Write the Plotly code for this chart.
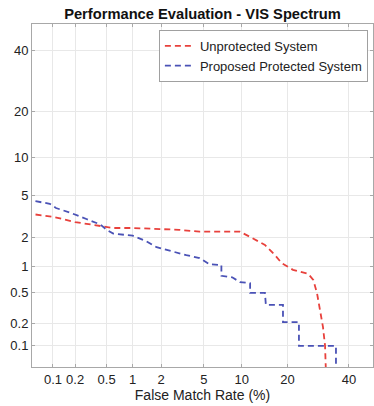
from statistics import NormalDist
import plotly.graph_objects as go

# ---- data (percentages) ----
unprot_fmr = [0.04, 0.05, 0.1, 0.2, 0.45, 0.6, 1.0, 3.0, 4.6, 9.7, 11.5, 14.5, 16.8, 18.5, 21.5, 26.0, 27.6, 28.8, 29.8, 30.8, 31.5, 31.8]
unprot_fnmr = [3.45, 3.4, 3.2, 2.85, 2.56, 2.5, 2.5, 2.4, 2.3, 2.3, 2.04, 1.69, 1.32, 1.08, 0.91, 0.82, 0.70, 0.49, 0.30, 0.18, 0.1, 0.04]

prot_fmr = [0.04, 0.05, 0.09, 0.11, 0.17, 0.28, 0.42, 0.5, 0.6, 1.0, 1.4, 1.8, 2.45, 3.5, 4.6, 4.9, 5.6, 7.0, 7.0, 8.5, 9.7, 11.5, 11.5, 14.5, 14.7, 18.8, 18.8, 23.2, 23.2, 35.3, 35.3]
prot_fnmr = [4.6, 4.5, 4.2, 3.85, 3.5, 3.05, 2.7, 2.4, 2.2, 2.1, 1.85, 1.6, 1.46, 1.32, 1.23, 1.17, 1.05, 1.03, 0.78, 0.75, 0.66, 0.64, 0.49, 0.49, 0.35, 0.35, 0.21, 0.21, 0.1, 0.1, 0.04]

x_ticks = [0.1, 0.2, 0.5, 1, 2, 5, 10, 20, 40]
y_ticks = [0.1, 0.2, 0.5, 1, 2, 5, 10, 20, 40]

nd = NormalDist()
def probit(vals):
    return [nd.inv_cdf(v / 100.0) for v in vals]

def lbl(v):
    return f"{v:g}"

FONT = "Liberation Sans, Arial, Helvetica, sans-serif"

fig = go.Figure()
fig.add_trace(go.Scatter(
    x=probit(unprot_fmr), y=probit(unprot_fnmr), mode="lines",
    name="Unprotected System",
    line=dict(color="#e8413c", width=1.8, dash="6px,4px"),
))
fig.add_trace(go.Scatter(
    x=probit(prot_fmr), y=probit(prot_fnmr), mode="lines",
    name="Proposed Protected System",
    line=dict(color="#4a52b6", width=1.8, dash="6px,4px"),
))

axis_common = dict(
    showgrid=True, gridcolor="#e8e8e8", gridwidth=1,
    showline=True, linecolor="#a8a8a8", linewidth=1, mirror="all",
    ticks="inside", ticklen=3, tickcolor="#a8a8a8",
    zeroline=False,
    tickfont=dict(family=FONT, size=13, color="#222"),
)

fig.update_layout(
    width=374, height=406,
    margin=dict(l=32, r=1, t=24, b=39),
    paper_bgcolor="white", plot_bgcolor="white",
    title=dict(text="<b>Performance Evaluation - VIS Spectrum</b>",
               x=(32 + 373) / 2 / 374, xanchor="center", y=1 - 14 / 406, yanchor="middle",
               font=dict(family=FONT, size=14.7, color="#111")),
    xaxis=dict(axis_common, range=[-3.2915, -0.0222],
               tickvals=probit(x_ticks), ticktext=[lbl(v) for v in x_ticks],
               title=dict(text="False Match Rate (%)", standoff=2,
                          font=dict(family=FONT, size=14, color="#222"))),
    yaxis=dict(axis_common, range=[-3.2927, -0.004],
               tickvals=probit(y_ticks), ticktext=[lbl(v) for v in y_ticks]),
    legend=dict(x=0.985, xanchor="right", y=0.983, yanchor="top",
                bgcolor="white", bordercolor="#a0a0a0", borderwidth=1,
                font=dict(family=FONT, size=13, color="#222"),
                itemwidth=30, tracegroupgap=0),
    showlegend=True,
)

fig.write_html("out.html", config={"displayModeBar": False},
               post_script="document.body.style.margin='0';")
